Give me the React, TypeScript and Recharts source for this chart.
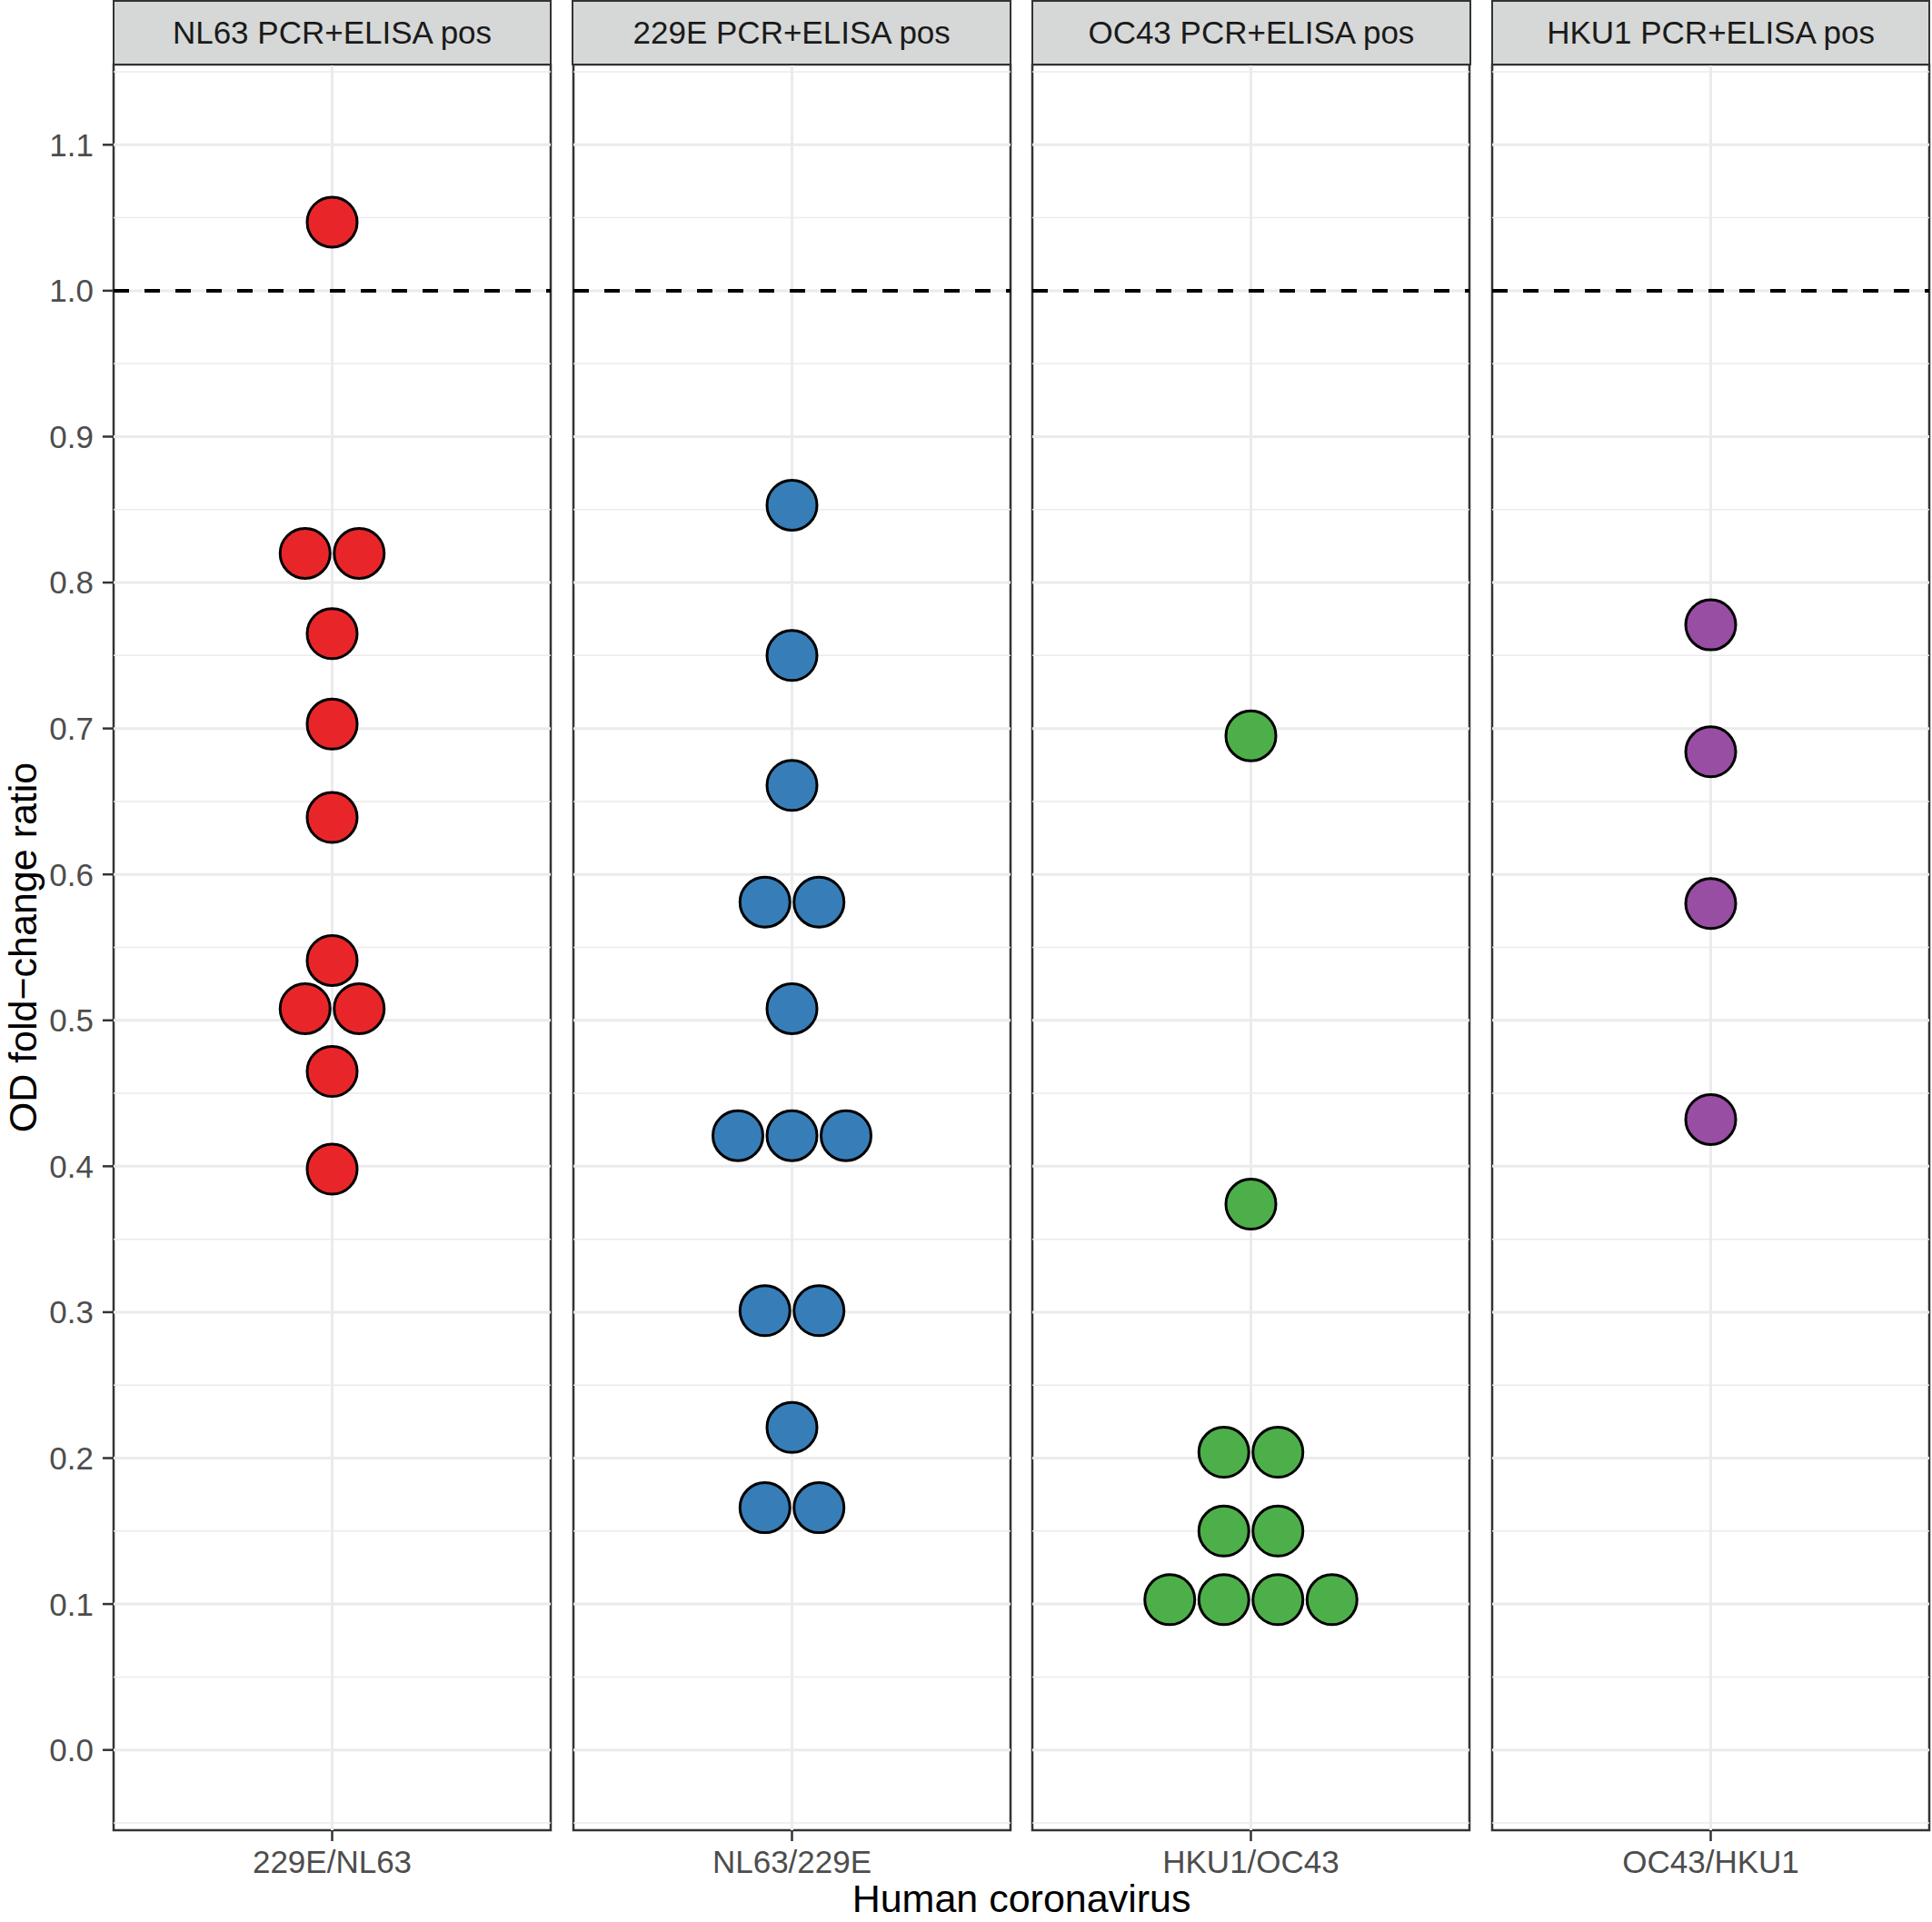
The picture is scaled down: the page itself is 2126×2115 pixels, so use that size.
import React from "react";
import {
  ScatterChart,
  Scatter,
  XAxis,
  YAxis,
  ReferenceLine,
  ReferenceArea,
} from "recharts";

// facet labels and x categories
const stripLabels = [
  "NL63 PCR+ELISA pos",
  "229E PCR+ELISA pos",
  "OC43 PCR+ELISA pos",
  "HKU1 PCR+ELISA pos",
];
const categories = ["229E/NL63", "NL63/229E", "HKU1/OC43", "OC43/HKU1"];

// OD fold-change ratios (equal values share a row)
const nl63Ratios = [1.047, 0.82, 0.82, 0.765, 0.703, 0.639, 0.541, 0.508, 0.508, 0.465, 0.398];
const e229Ratios = [0.853, 0.75, 0.661, 0.581, 0.581, 0.508, 0.421, 0.421, 0.421, 0.301, 0.301, 0.221, 0.166, 0.166];
const oc43Ratios = [0.695, 0.374, 0.204, 0.204, 0.15, 0.15, 0.103, 0.103, 0.103, 0.103];
const hku1Ratios = [0.771, 0.684, 0.58, 0.432];

const seriesValues = [nl63Ratios, e229Ratios, oc43Ratios, hku1Ratios];
const seriesColors = ["#E8262A", "#377EB8", "#4DAF4A", "#984EA3"];

const yTicks = [0, 0.1, 0.2, 0.3, 0.4, 0.5, 0.6, 0.7, 0.8, 0.9, 1.0, 1.1];
const yMinor = [-0.05, 0.05, 0.15, 0.25, 0.35, 0.45, 0.55, 0.65, 0.75, 0.85, 0.95, 1.05, 1.15];
const yDomain: [number, number] = [-0.055, 1.155];
const cutoff = 1.0;

// layout
const W = 2126;
const H = 2115;
const PANEL_LEFT = 125;
const PANEL_STEP = 505.7;
const PANEL_W = 481;
const STRIP_H = 71;
const PLOT_BOTTOM = 2014;
const Y_AXIS_W = 125;
const PAD = 4;
const DOT_STEP = 59.5;
const X_HALF = PANEL_W / (2 * DOT_STEP);
const FONT = "'Liberation Sans', Arial, Helvetica, sans-serif";

// dots with the same value are laid side by side, centred on the category
function swarm(values: number[]) {
  const counts = new Map<number, number>();
  values.forEach((v) => counts.set(v, (counts.get(v) || 0) + 1));
  const seen = new Map<number, number>();
  return values.map((v) => {
    const n = counts.get(v) || 1;
    const j = seen.get(v) || 0;
    seen.set(v, j + 1);
    return { x: j - (n - 1) / 2, y: v };
  });
}

const Panel = ({ index }: { index: number }) => {
  const first = index === 0;
  const panelLeft = PANEL_LEFT + index * PANEL_STEP;
  const chartLeft = first ? 0 : panelLeft - PAD;
  const chartW = first ? Y_AXIS_W + PANEL_W + PAD : PANEL_W + 2 * PAD;
  const xAxisH = 60;
  const color = seriesColors[index];
  const data = swarm(seriesValues[index]);

  return (
    <div style={{ position: "absolute", left: chartLeft, top: 0 }}>
      <ScatterChart
        width={chartW}
        height={H}
        margin={{ top: STRIP_H, right: PAD, bottom: H - PLOT_BOTTOM - xAxisH, left: first ? 0 : PAD }}
      >
        <XAxis
          dataKey="x"
          type="number"
          domain={[-X_HALF, X_HALF]}
          allowDataOverflow
          ticks={[0]}
          tickFormatter={() => categories[index]}
          height={xAxisH}
          axisLine={false}
          tickSize={12}
          tickMargin={10}
          tickLine={{ stroke: "#333333", strokeWidth: 2.5 }}
          tick={{ fill: "#4D4D4D", fontSize: 35, fontFamily: FONT }}
        />
        <YAxis
          dataKey="y"
          type="number"
          domain={yDomain}
          allowDataOverflow
          ticks={yTicks}
          interval={0}
          hide={!first}
          width={Y_AXIS_W}
          tickFormatter={(v: number) => v.toFixed(1)}
          axisLine={false}
          tickSize={12}
          tickMargin={10}
          tickLine={{ stroke: "#333333", strokeWidth: 2.5 }}
          tick={{ fill: "#4D4D4D", fontSize: 35, fontFamily: FONT }}
        />
        {yMinor.map((v) => (
          <ReferenceLine key={"mn" + v} y={v} stroke="#EBEBEB" strokeWidth={1.5} ifOverflow="visible" />
        ))}
        {yTicks.map((v) => (
          <ReferenceLine key={"mj" + v} y={v} stroke="#EBEBEB" strokeWidth={3} />
        ))}
        <ReferenceLine x={0} stroke="#EBEBEB" strokeWidth={3} />
        <ReferenceLine y={cutoff} stroke="#000000" strokeWidth={4} strokeDasharray="17 17" />
        <ReferenceArea
          x1={-X_HALF}
          x2={X_HALF}
          y1={yDomain[0]}
          y2={yDomain[1]}
          fill="none"
          fillOpacity={0}
          stroke="#333333"
          strokeWidth={2.5}
          ifOverflow="visible"
        />
        <Scatter
          data={data}
          isAnimationActive={false}
          shape={(p: any) => (
            <circle cx={p.cx} cy={p.cy} r={27.5} fill={color} stroke="#000000" strokeWidth={3} />
          )}
        />
      </ScatterChart>
      <div
        style={{
          position: "absolute",
          left: panelLeft - chartLeft - 1.25,
          top: 0,
          width: PANEL_W + 2.5,
          height: STRIP_H + 1.25,
          boxSizing: "border-box",
          border: "2.5px solid #333333",
          background: "#D6D8D7",
          color: "#1A1A1A",
          fontFamily: FONT,
          fontSize: 35,
          lineHeight: `${STRIP_H - 3}px`,
          textAlign: "center",
          whiteSpace: "nowrap",
        }}
      >
        {stripLabels[index]}
      </div>
    </div>
  );
};

export default function App() {
  return (
    <div
      style={{
        position: "absolute",
        left: 0,
        top: 0,
        width: W,
        height: H,
        background: "#FFFFFF",
        overflow: "hidden",
      }}
    >
      {[0, 1, 2, 3].map((i) => (
        <Panel key={i} index={i} />
      ))}
      <svg
        width={W}
        height={H}
        style={{ position: "absolute", left: 0, top: 0, pointerEvents: "none" }}
      >
        <text
          transform={`translate(40, ${(STRIP_H + PLOT_BOTTOM) / 2}) rotate(-90)`}
          textAnchor="middle"
          fontFamily={FONT}
          fontSize={43}
          fill="#000000"
        >
          OD fold−change ratio
        </text>
        <text
          x={PANEL_LEFT + (3 * PANEL_STEP + PANEL_W) / 2}
          y={2104}
          textAnchor="middle"
          fontFamily={FONT}
          fontSize={43}
          fill="#000000"
        >
          Human coronavirus
        </text>
      </svg>
    </div>
  );
}
